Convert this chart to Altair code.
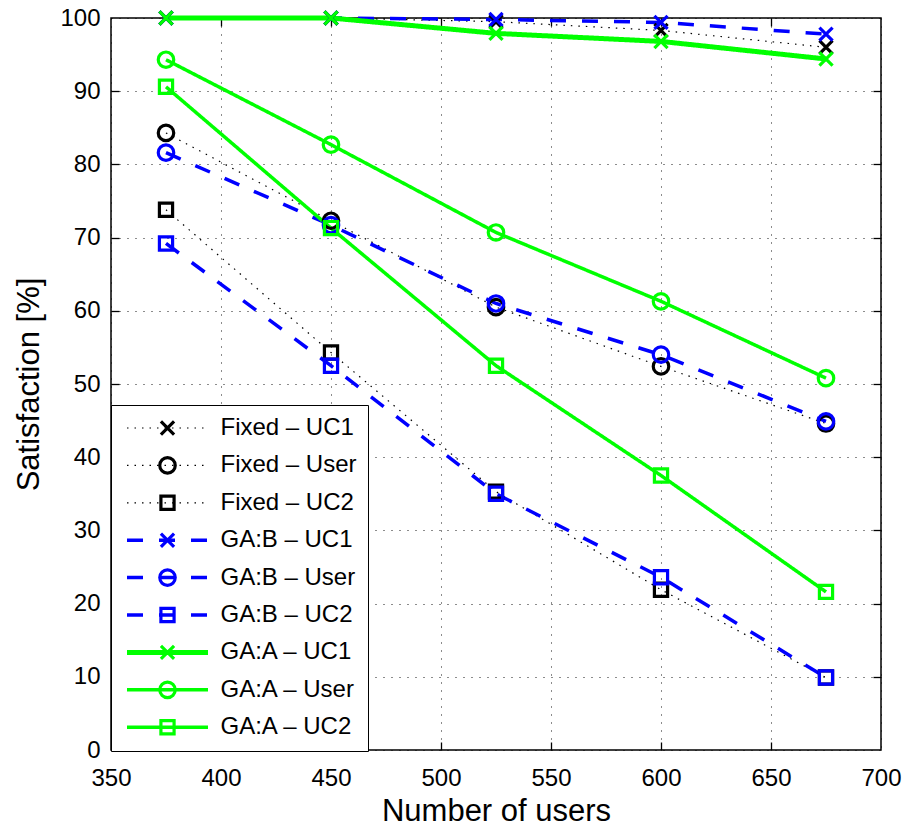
import altair as alt
import pandas as pd

FONT = "Liberation Sans"

# Number of users on the x axis
users = [375, 450, 525, 600, 675]

series_names = [
    "Fixed – UC1", "Fixed – User", "Fixed – UC2",
    "GA:B – UC1", "GA:B – User", "GA:B – UC2",
    "GA:A – UC1", "GA:A – User", "GA:A – UC2",
]

# Satisfaction [%] per scheme and class
fixed_uc1 = [100.0, 100.0, 99.5, 98.3, 96.0]
fixed_user = [84.3, 72.3, 60.5, 52.4, 44.6]
fixed_uc2 = [73.8, 54.3, 35.3, 21.9, 9.9]
gab_uc1 = [100.0, 100.0, 99.8, 99.4, 97.8]
gab_user = [81.6, 71.7, 61.0, 54.0, 44.9]
gab_uc2 = [69.2, 52.5, 35.0, 23.6, 9.9]
gaa_uc1 = [100.0, 100.0, 97.9, 96.8, 94.4]
gaa_user = [94.3, 82.7, 70.7, 61.3, 50.8]
gaa_uc2 = [90.6, 71.3, 52.5, 37.5, 21.6]

series_values = [fixed_uc1, fixed_user, fixed_uc2,
                 gab_uc1, gab_user, gab_uc2,
                 gaa_uc1, gaa_user, gaa_uc2]

x_ticks = [350, 400, 450, 500, 550, 600, 650, 700]
y_ticks = [0, 10, 20, 30, 40, 50, 60, 70, 80, 90, 100]

# Styles per series
colors = ["#000000"] * 3 + ["#0000ff"] * 3 + ["#00ff00"] * 3
dashes = [[1.5, 6]] * 3 + [[16, 16]] * 3 + [[1, 0]] * 3
line_widths = [1.2] * 3 + [3.5] * 3 + [5, 3.5, 3.5]
X_PATH = "M-0.85,-0.85L0.85,0.85M-0.85,0.85L0.85,-0.85"
SQ_PATH = "M-0.85,-0.85L0.85,-0.85L0.85,0.85L-0.85,0.85Z"
shapes = [X_PATH, "circle", SQ_PATH] * 3
MARK_SIZE = 240
MARK_STROKE = 3.2

rows = []
for i, (name, vals) in enumerate(zip(series_names, series_values)):
    for u, v in zip(users, vals):
        rows.append({"users": u, "sat": v, "series": name, "marker": name, "idx": i})
df = pd.DataFrame(rows)

xs = alt.Scale(domain=[350, 700], nice=False, zero=False)
ys = alt.Scale(domain=[0, 100], nice=False, zero=False)

legend_common = dict(
    title=None, orient="none", legendX=0, legendY=387,
    padding=11, rowPadding=13.4, clipHeight=24,
    labelFontSize=24, labelFont=FONT, labelLimit=400,
)

# Line styles of the legend (white box with border)
legend_lines = alt.Legend(
    symbolType="stroke", symbolSize=6561, symbolOffset=2.5, labelOffset=10,
    labelColor="black", fillColor="white", strokeColor="black",
    **legend_common,
)
# Marker symbols laid over the centre of each legend line (no labels of its own)
legend_marks = alt.Legend(
    symbolSize=MARK_SIZE, symbolOffset=33.5, symbolStrokeWidth=MARK_STROKE,
    symbolFillColor="transparent", labelExpr="''", labelOffset=10,
    **legend_common,
)

x_main = alt.Axis(
    values=x_ticks, ticks=False, domain=False, grid=True,
    gridDash=[1, 7], gridColor="black", gridWidth=1, gridOpacity=0.9,
    labelFontSize=24, labelPadding=16, labelFlush=False, format="d",
    title="Number of users", titleFontSize=31, titleFontWeight="normal",
    titlePadding=6,
)
y_main = alt.Axis(
    values=y_ticks, ticks=False, domain=False, grid=True,
    gridDash=[1, 7], gridColor="black", gridWidth=1, gridOpacity=0.9,
    labelFontSize=24, labelPadding=11, labelFlush=False, format="d",
    title="Satisfaction [%]", titleFontSize=31, titleFontWeight="normal",
    titlePadding=14,
)

base = alt.Chart(df)

lines = base.mark_line().encode(
    x=alt.X("users:Q", scale=xs, axis=x_main),
    y=alt.Y("sat:Q", scale=ys, axis=y_main),
    color=alt.Color("series:N", scale=alt.Scale(domain=series_names, range=colors),
                    legend=legend_lines),
    strokeDash=alt.StrokeDash("series:N", scale=alt.Scale(domain=series_names, range=dashes),
                              legend=legend_lines),
    strokeWidth=alt.StrokeWidth("series:N",
                                scale=alt.Scale(type="ordinal", domain=series_names,
                                                range=line_widths),
                                legend=legend_lines),
)

marker_sort = alt.EncodingSortField(field="idx", op="min")
points = base.mark_point(filled=False, size=MARK_SIZE, strokeWidth=MARK_STROKE,
                         opacity=1).encode(
    x=alt.X("users:Q", scale=xs, axis=None),
    y=alt.Y("sat:Q", scale=ys, axis=None),
    stroke=alt.Stroke("marker:N", sort=marker_sort,
                      scale=alt.Scale(range=colors), legend=legend_marks),
    shape=alt.Shape("marker:N", sort=marker_sort,
                    scale=alt.Scale(range=shapes), legend=legend_marks),
    order=alt.Order("idx:Q"),
)


def inner_ticks(orient):
    """Invisible layer carrying an axis whose ticks point into the plot."""
    tick_axis = alt.Axis(
        orient=orient, offset=-8, tickSize=8, tickWidth=1.3, tickColor="black",
        labels=False, domain=False, grid=False, title=None,
        values=(x_ticks[1:-1] if orient in ("top", "bottom") else y_ticks[1:-1]),
    )
    if orient in ("top", "bottom"):
        enc = dict(x=alt.X("users:Q", scale=xs, axis=tick_axis),
                   y=alt.Y("sat:Q", scale=ys, axis=None))
    else:
        enc = dict(x=alt.X("users:Q", scale=xs, axis=None),
                   y=alt.Y("sat:Q", scale=ys, axis=tick_axis))
    return base.mark_point(opacity=0).encode(**enc)


chart = alt.layer(
    lines, points,
    inner_ticks("left"), inner_ticks("right"),
    inner_ticks("top"), inner_ticks("bottom"),
).resolve_axis(
    x="independent", y="independent"
).properties(
    width=770, height=732,
    autosize=alt.AutoSizeParams(type="none"),
    padding={"left": 111, "top": 18, "right": 26, "bottom": 79},
    background="white",
).configure_axis(
    labelFont=FONT, titleFont=FONT, labelColor="black", titleColor="black",
).configure_view(
    stroke="black", strokeWidth=1.5,
)

chart.save("out.html", embed_options={"renderer": "svg", "actions": False})
